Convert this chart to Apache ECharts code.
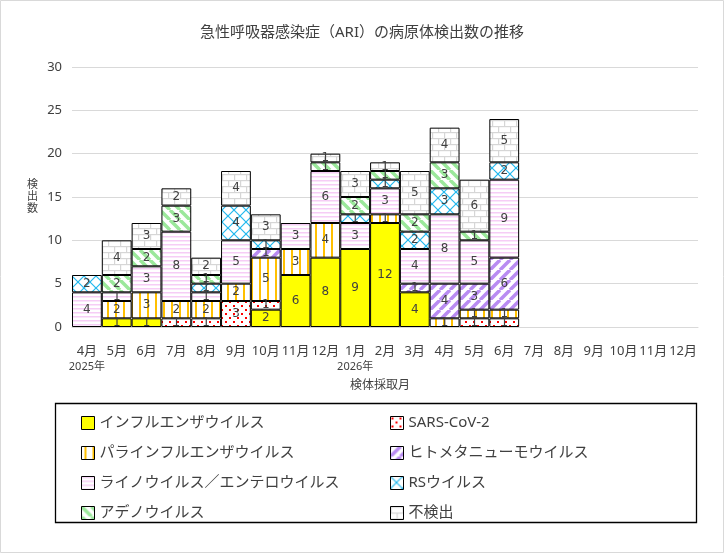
<!DOCTYPE html>
<html>
<head>
<meta charset="utf-8">
<script src="https://cdn.jsdelivr.net/npm/echarts@6/dist/echarts.min.js"></script>
<style>
  html, body { margin: 0; padding: 0; background: #fff; }
  #chart { width: 724px; height: 553px; }
</style>
</head>
<body>
<div id="chart"></div>
<script>
const months = ['4月', '5月', '6月', '7月', '8月', '9月', '10月', '11月', '12月', '1月', '2月', '3月',
  '4月', '5月', '6月', '7月', '8月', '9月', '10月', '11月', '12月'];
const years = ['2025年', '', '', '', '', '', '', '', '', '2026年', '', '', '', '', '', '', '', '', '', '', ''];

const influenza     = [0, 1, 1, 0, 0, 0, 2, 6, 8, 9, 12, 4, 0, 0, 0, 0, 0, 0, 0, 0, 0];
const sarsCov2      = [0, 0, 0, 1, 1, 3, 1, 0, 0, 0, 0, 0, 0, 1, 1, 0, 0, 0, 0, 0, 0];
const parainfluenza = [0, 2, 3, 2, 2, 2, 5, 3, 4, 0, 1, 0, 1, 1, 1, 0, 0, 0, 0, 0, 0];
const hmpv          = [0, 0, 0, 0, 0, 0, 1, 0, 0, 0, 0, 1, 4, 3, 6, 0, 0, 0, 0, 0, 0];
const rhinoEntero   = [4, 1, 3, 8, 1, 5, 0, 3, 6, 3, 3, 4, 8, 5, 9, 0, 0, 0, 0, 0, 0];
const rsVirus       = [2, 0, 0, 0, 1, 4, 1, 0, 0, 1, 1, 2, 3, 0, 2, 0, 0, 0, 0, 0, 0];
const adeno         = [0, 2, 2, 3, 1, 0, 0, 0, 1, 2, 1, 2, 3, 1, 0, 0, 0, 0, 0, 0, 0];
const notDetected   = [0, 4, 3, 2, 2, 4, 3, 0, 1, 3, 1, 5, 4, 6, 5, 0, 0, 0, 0, 0, 0];

const FONT = "'Noto Sans', 'Noto Sans CJK JP', sans-serif";
const TXT = '#404040';

// small canvas tiles used as fill patterns
function tile(w, h, draw) {
  const c = document.createElement('canvas');
  c.width = w; c.height = h;
  const g = c.getContext('2d');
  g.fillStyle = '#fff';
  g.fillRect(0, 0, w, h);
  draw(g, w, h);
  return { image: c, repeat: 'repeat' };
}
function diag(color, p, lw, dir) {
  return tile(p, p, (g) => {
    g.strokeStyle = color; g.lineWidth = lw;
    for (let k = -1; k <= 1; k++) {
      g.beginPath();
      if (dir > 0) { g.moveTo(k * p, p); g.lineTo(k * p + p, 0); }
      else { g.moveTo(k * p, 0); g.lineTo(k * p + p, p); }
      g.stroke();
    }
  });
}

const patterns = {
  influenza: '#FFFF00',
  sars: tile(8, 8, (g) => { g.fillStyle = '#FF0000'; g.fillRect(1, 1, 2, 2); g.fillRect(5, 5, 2, 2); }),
  para: tile(8, 4, (g) => { g.fillStyle = '#FFC000'; g.fillRect(3, 0, 2, 4); }),
  hmpv: diag('#B98CF2', 10, 3.5, 1),
  rhino: tile(4, 4, (g) => { g.fillStyle = '#F6CDF6'; g.fillRect(0, 0, 4, 1.5); }),
  rs: tile(12, 12, (g) => {
    g.strokeStyle = '#22B8EE'; g.lineWidth = 1.2;
    g.beginPath(); g.moveTo(0, 0); g.lineTo(12, 12); g.stroke();
    g.beginPath(); g.moveTo(12, 0); g.lineTo(0, 12); g.stroke();
  }),
  adeno: diag('#9BE89B', 10, 3.5, -1),
  none: tile(12, 12, (g) => {
    g.fillStyle = '#D6D6D6';
    g.fillRect(0, 0, 12, 1.2); g.fillRect(0, 6, 12, 1.2);
    g.fillRect(0, 0, 1.2, 6); g.fillRect(6, 6, 1.2, 6);
  })
};

const seriesDefs = [
  ['インフルエンザウイルス', influenza, patterns.influenza],
  ['SARS-CoV-2', sarsCov2, patterns.sars],
  ['パラインフルエンザウイルス', parainfluenza, patterns.para],
  ['ヒトメタニューモウイルス', hmpv, patterns.hmpv],
  ['ライノウイルス／エンテロウイルス', rhinoEntero, patterns.rhino],
  ['RSウイルス', rsVirus, patterns.rs],
  ['アデノウイルス', adeno, patterns.adeno],
  ['不検出', notDetected, patterns.none]
];

// segment labels: [category index, middle of the stacked segment, value]
const labelRows = [];
months.forEach((m, i) => {
  let base = 0;
  seriesDefs.forEach(([, values]) => {
    const v = values[i];
    if (v > 0) labelRows.push([i, base + v / 2, v]);
    base += v;
  });
});

const chart = echarts.init(document.getElementById('chart'));

const legendCommon = {
  orient: 'vertical',
  itemWidth: 13,
  itemHeight: 13,
  itemGap: 14,
  icon: 'rect',
  textStyle: { fontFamily: FONT, fontSize: 15, color: TXT, lineHeight: 16 },
  itemStyle: { borderColor: '#000', borderWidth: 1 },
  selectedMode: false
};

const barSeries = seriesDefs.map(([name, values, fill]) => ({
  name,
  type: 'bar',
  stack: 'total',
  barCategoryGap: '0%',
  data: values.map(v => v === 0 ? '-' : v),
  itemStyle: { color: fill, borderColor: '#000', borderWidth: 1 }
}));

const labelSeries = {
  type: 'custom',
  z: 10,
  silent: true,
  data: labelRows,
  encode: { x: 0, y: 1 },
  renderItem: (params, api) => {
    const pt = api.coord([api.value(0), api.value(1)]);
    return {
      type: 'text',
      x: pt[0],
      y: pt[1],
      style: {
        text: String(api.value(2)),
        align: 'center',
        verticalAlign: 'middle',
        fill: TXT,
        font: "12px 'DejaVu Sans', sans-serif"
      }
    };
  }
};

chart.setOption({
  backgroundColor: '#fff',
  animation: false,
  textStyle: { fontFamily: FONT },
  title: {
    text: '急性呼吸器感染症（ARI）の病原体検出数の推移',
    left: 'center',
    top: 20,
    textStyle: { fontFamily: FONT, fontSize: 15, fontWeight: 'normal', color: TXT }
  },
  graphic: [
    { type: 'rect', shape: { x: 0.5, y: 0.5, width: 723, height: 552 }, style: { fill: 'none', stroke: '#D9D9D9', lineWidth: 1 }, silent: true },
    { type: 'rect', shape: { x: 55.5, y: 403.5, width: 641, height: 119 }, style: { fill: 'none', stroke: '#000', lineWidth: 1.3 }, silent: true }
  ],
  legend: [
    Object.assign({ left: 76, top: 410, data: [seriesDefs[0][0], seriesDefs[2][0], seriesDefs[4][0], seriesDefs[6][0]] }, legendCommon),
    Object.assign({ left: 385, top: 410, data: [seriesDefs[1][0], seriesDefs[3][0], seriesDefs[5][0], seriesDefs[7][0]] }, legendCommon)
  ],
  grid: { left: 72, right: 26, top: 67, bottom: 226 },
  xAxis: {
    type: 'category',
    data: months,
    name: '検体採取月',
    nameLocation: 'middle',
    nameGap: 53,
    nameTextStyle: { fontFamily: FONT, fontSize: 12, color: TXT, padding: [0, 10, 0, 0] },
    axisLine: { lineStyle: { color: '#D9D9D9' } },
    axisTick: { show: false },
    axisLabel: {
      interval: 0,
      margin: 16,
      color: TXT,
      fontSize: 13,
      lineHeight: 16,
      formatter: (v, i) => years[i] ? v + '\n{y|' + years[i] + '}' : v,
      rich: { y: { fontSize: 11, lineHeight: 16, color: TXT, fontFamily: FONT } }
    }
  },
  yAxis: {
    type: 'value',
    min: 0,
    max: 30,
    interval: 5,
    name: '検\n出\n数',
    nameLocation: 'middle',
    nameRotate: 0,
    nameGap: 34,
    nameTextStyle: { fontFamily: FONT, fontSize: 11, color: TXT, lineHeight: 12 },
    axisLine: { show: false },
    axisTick: { show: false },
    axisLabel: { color: TXT, fontSize: 13, margin: 10 },
    splitLine: { lineStyle: { color: '#D9D9D9' } }
  },
  series: barSeries.concat([labelSeries])
});
</script>
</body>
</html>
